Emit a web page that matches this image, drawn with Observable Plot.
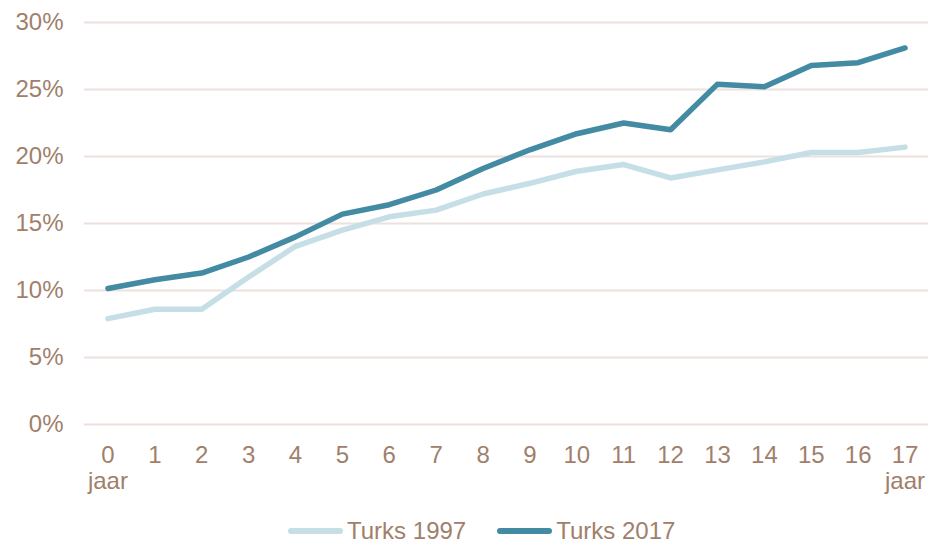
<!DOCTYPE html>
<html>
<head>
<meta charset="utf-8">
<script src="https://cdn.jsdelivr.net/npm/d3@7"></script>
<script src="https://cdn.jsdelivr.net/npm/@observablehq/plot@0.6"></script>
<style>
  body { margin: 0; background: #fff; font-family: "Liberation Sans", Arial, sans-serif; }
  #chart { width: 930px; height: 500px; }
  .legend { display: flex; justify-content: flex-start; align-items: center; height: 30px; margin-top: 16px; padding-left: 288px; color: #a0806b; font-size: 24px; font-family: "Liberation Sans", Arial, sans-serif; }
  .item { display: flex; align-items: center; margin: 0 31px 0 0; }
  .sw { display: inline-block; width: 55px; height: 6px; border-radius: 3px; margin-right: 4px; }
</style>
</head>
<body>
<div id="chart"></div>
<script>
const ages = [0,1,2,3,4,5,6,7,8,9,10,11,12,13,14,15,16,17];
const turks1997 = [7.9,8.6,8.6,11.0,13.3,14.5,15.5,16.0,17.2,18.0,18.9,19.4,18.4,19.0,19.6,20.3,20.3,20.7];
const turks2017 = [10.15,10.8,11.3,12.5,14.0,15.7,16.4,17.5,19.1,20.5,21.7,22.5,22.0,25.4,25.2,26.8,27.0,28.1];
const seriesNames = ["Turks 1997","Turks 2017"];
const seriesColors = ["#c6dee6","#438aa3"];
const yTicks = [0,5,10,15,20,25,30];
const jaarTicks = [0,17];
const jaarLabel = "jaar";

const rows = [];
ages.forEach((a,i) => {
  rows.push({age:a, value:turks1997[i], series:seriesNames[0]});
  rows.push({age:a, value:turks2017[i], series:seriesNames[1]});
});

const textColor = "#a0806b";
const plot = Plot.plot({
  width: 930,
  height: 500,
  marginTop: 22,
  marginBottom: 76,
  marginLeft: 84,
  marginRight: 2,
  style: {fontFamily: '"Liberation Sans", Arial, sans-serif', fontSize: "24px", color: textColor, background: "#fff"},
  x: {domain: [-0.5, 17.5], ticks: ages, label: null},
  y: {domain: [0, 30], label: null},
  color: {domain: seriesNames, range: seriesColors},
  marks: [
    Plot.ruleY(yTicks, {stroke: "#ece1dd", strokeWidth: 2}),
    Plot.axisY({ticks: yTicks, tickSize: 0, tickPadding: 21, tickFormat: d => d + "%", fill: textColor, fontSize: 24, label: null}),
    Plot.axisX({ticks: ages, tickSize: 0, tickPadding: 21, fill: textColor, fontSize: 24, lineHeight: 1.05, label: null,
      tickFormat: d => jaarTicks.includes(d) ? `${d}\n${jaarLabel}` : String(d)}),
    Plot.line(rows, {x: "age", y: "value", z: "series", stroke: "series", strokeWidth: 5.5, strokeLinejoin: "round", strokeLinecap: "round"})
  ]
});
document.getElementById("chart").appendChild(plot);

const legend = document.createElement("div");
legend.className = "legend";
seriesNames.forEach((n,i) => {
  const it = document.createElement("div");
  it.className = "item";
  const sw = document.createElement("span");
  sw.className = "sw";
  sw.style.background = seriesColors[i];
  const t = document.createElement("span");
  t.textContent = n;
  it.appendChild(sw); it.appendChild(t);
  legend.appendChild(it);
});
document.body.appendChild(legend);
</script>
</body>
</html>
